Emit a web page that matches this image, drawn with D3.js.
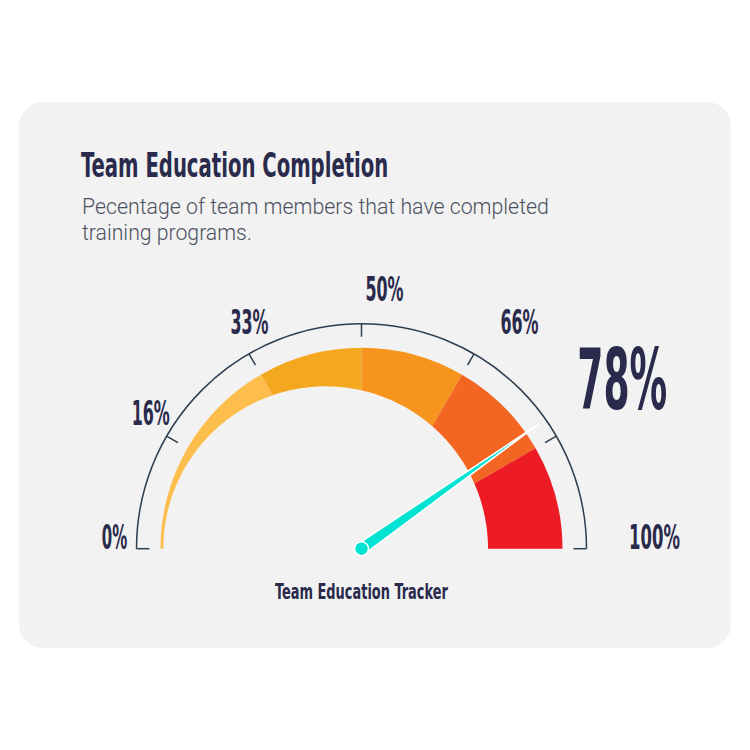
<!DOCTYPE html>
<html><head><meta charset="utf-8">
<script src="https://cdn.jsdelivr.net/npm/d3@7"></script>
<style>html,body{margin:0;padding:0;background:#fff}</style>
</head><body>
<svg id="chart" width="750" height="750"></svg>
<script>
// ---- data ----
const bandStarts = [0, 33.33, 50, 66.67, 83.33];
const bandEnds   = [33.33, 50, 66.67, 83.33, 100];
const bandColors = ["#FDBE4D", "#F3A81F", "#F7941D", "#F26522", "#ED1C24"];
const tickValues = [0, 16.67, 33.33, 50, 66.67, 83.33, 100];
const tickLabelValues = [0, 16.67, 33.33, 50, 66.67, 100];
const tickLabels = ["0%", "16%", "33%", "50%", "66%", "100%"];
const needleValue = 80.5;
const displayValue = "78%";
const titleText = "Team Education Completion";
const subtitleLines = ["Pecentage of team members that have completed", "training programs."];
const gaugeName = "Team Education Tracker";

// ---- layout ----
const svg = d3.select("#chart");
const navy = "#2A2A4C";
const condFont = "'DejaVu Sans Condensed','DejaVu Sans',sans-serif";

svg.append("rect").attr("x", 19).attr("y", 102).attr("width", 712).attr("height", 546)
  .attr("rx", 24).attr("fill", "#F2F2F2");

// place text with its left edge at x, baseline at y, horizontally scaled to width
function fitText(str, x, y, width, size, opts = {}) {
  const grp = svg.append("g");
  const t = grp.append("text").attr("x", 0).attr("y", 0)
    .attr("font-family", opts.family || condFont)
    .attr("font-weight", opts.weight || "bold")
    .attr("font-stretch", opts.stretch || "condensed")
    .attr("font-size", size).attr("fill", opts.fill || navy).text(str);
  const nat = t.node().getComputedTextLength() || width;
  const sx = width / nat;
  grp.attr("transform", `translate(${x},${y}) scale(${sx},1)`);
  return t;
}

fitText(titleText, 81, 176.7, 307.5, 34);

const subW = [467, 170];
subtitleLines.forEach((t, i) => {
  fitText(t, 82, 214.3 + i * 25.7, subW[i], 22.5,
    { family: "Roboto, 'Open Sans', sans-serif", weight: 300, stretch: "normal", fill: "#4B5060" });
});

const cx = 361.5, cy = 548.7;
const ang = d3.scaleLinear().domain([0, 100]).range([-Math.PI / 2, Math.PI / 2]);
const pt = (a, r) => [cx + r * Math.sin(a), cy - r * Math.cos(a)];

const rOuterBand = 201;
const innerOffset = 35.85, innerR = 162.35;
function innerT(a) {
  const s = Math.sin(a);
  return -innerOffset * s + Math.sqrt(innerOffset * innerOffset * s * s - innerOffset * innerOffset + innerR * innerR);
}

const g = svg.append("g");
bandStarts.forEach((s, i) => {
  const a0 = ang(s), a1 = ang(bandEnds[i]);
  const p = d3.path();
  const o0 = pt(a0, rOuterBand);
  p.moveTo(o0[0], o0[1]);
  p.arc(cx, cy, rOuterBand, a0 - Math.PI / 2, a1 - Math.PI / 2, false);
  const n = 48;
  for (let k = 0; k <= n; k++) {
    const a = a1 + (a0 - a1) * k / n;
    const q = pt(a, innerT(a));
    p.lineTo(q[0], q[1]);
  }
  p.closePath();
  g.append("path").attr("d", p.toString()).attr("fill", bandColors[i]);
});

// axis arc line
const rAxis = 225;
svg.append("path")
  .attr("d", d3.arc().innerRadius(rAxis).outerRadius(rAxis).startAngle(ang(0)).endAngle(ang(100))())
  .attr("transform", `translate(${cx},${cy})`)
  .attr("fill", "none").attr("stroke", "#2C3E50").attr("stroke-width", 1.5);

svg.selectAll(".tick").data(tickValues).join("line")
  .attr("x1", d => pt(ang(d), rAxis)[0]).attr("y1", d => pt(ang(d), rAxis)[1])
  .attr("x2", d => pt(ang(d), rAxis - 13)[0]).attr("y2", d => pt(ang(d), rAxis - 13)[1])
  .attr("stroke", "#2C3E50").attr("stroke-width", 1.5);

// tick labels
const charW = 12.7;
tickLabelValues.forEach((v, i) => {
  const a = ang(v);
  const lx = cx + 23 + 270 * Math.sin(a);
  const ly = cy - 12 - 248 * Math.cos(a);
  const w = tickLabels[i].length * charW;
  fitText(tickLabels[i], lx - w / 2, ly + 12.5, w, 34);
});

// big value
fitText(displayValue, 577.3, 409.3, 90, 84);

// needle
const na = ang(needleValue);
const needleLen = 216, baseHalf = 6;
const tip = pt(na, needleLen);
const perp = [Math.cos(na), Math.sin(na)];
const b1 = [cx + perp[0] * baseHalf, cy + perp[1] * baseHalf];
const b2 = [cx - perp[0] * baseHalf, cy - perp[1] * baseHalf];
svg.append("path").attr("d", d3.line()([b1, tip, b2]) + "Z")
  .attr("fill", "#00E3D3").attr("stroke", "#fff").attr("stroke-width", 1.5).attr("stroke-linejoin", "miter");
svg.append("circle").attr("cx", cx).attr("cy", cy).attr("r", 7)
  .attr("fill", "#00E3D3").attr("stroke", "#fff").attr("stroke-width", 1.5);

// gauge name
fitText(gaugeName, 275, 599.3, 173, 21);
</script>
</body></html>
